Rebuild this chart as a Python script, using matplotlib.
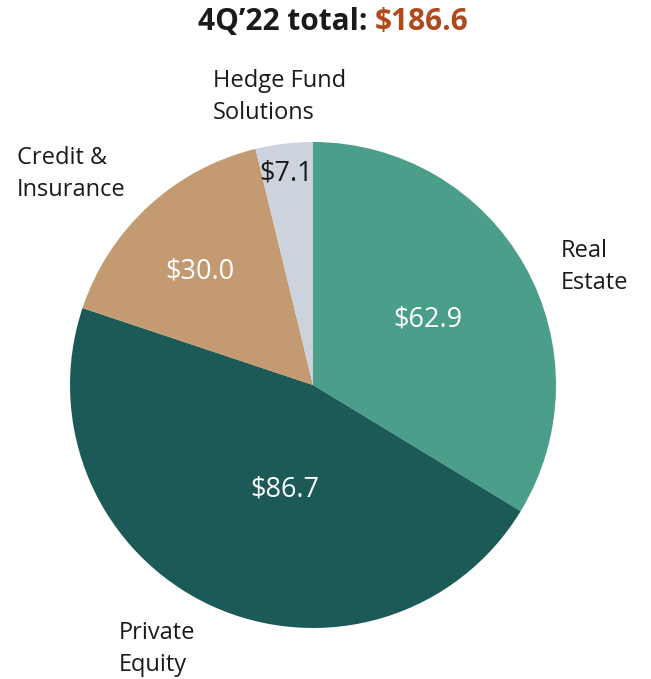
import matplotlib
matplotlib.use("Agg")
import matplotlib.pyplot as plt

categories = ["Real\nEstate", "Private\nEquity", "Credit &\nInsurance", "Hedge Fund\nSolutions"]
values = [62.9, 86.7, 30.0, 7.1]
value_labels = ["$62.9", "$86.7", "$30.0", "$7.1"]
total_label = "$186.6"
colors = ["#4A9E8A", "#1C5A58", "#C49A72", "#CDD3DC"]
value_colors = ["white", "white", "white", "#1a1a1a"]

plt.rcParams['font.family'] = ['Open Sans', 'DejaVu Sans']

W, H = 651, 679
fig = plt.figure(figsize=(W / 100, H / 100), dpi=100)
cx, cy, r = 313, 385, 243
ax = fig.add_axes([(cx - r) / W, (H - cy - r) / H, 2 * r / W, 2 * r / H])
ax.pie(values, colors=colors, startangle=90, counterclock=False,
       wedgeprops=dict(linewidth=0), radius=1)
ax.set_xlim(-1, 1)
ax.set_ylim(-1, 1)
ax.set_aspect('equal')
ax.axis('off')

def px(x, y):
    return ((x - cx) / r, (cy - y) / r)

# value labels (pixel centers estimated from reference)
val_pos = [(428, 320), (285, 490), (200, 272), (286, 173)]
for lab, pos, c in zip(value_labels, val_pos, value_colors):
    x, y = px(*pos)
    ax.text(x, y, lab, ha='center', va='center', fontsize=19.5, color=c, clip_on=False)

# category labels (left/top anchors)
cat_pos = [(561, 239), (119, 621), (17, 146), (213, 69)]
for lab, pos in zip(categories, cat_pos):
    x, y = px(*pos)
    ax.text(x, y, lab, ha='left', va='top', fontsize=17, color='#1a1a1a',
            linespacing=1.42, clip_on=False)

# title
ty = 1 - 22 / H
tx = 375 / W
fig.text(tx, ty, "4Q\u201922 total: ", ha='right', va='center',
         fontsize=21.5, fontweight='bold', color='#1a1a1a')
fig.text(tx, ty, total_label, ha='left', va='center',
         fontsize=21.5, fontweight='bold', color='#B04A1C')

fig.savefig("out.png", dpi=100, facecolor='white')
